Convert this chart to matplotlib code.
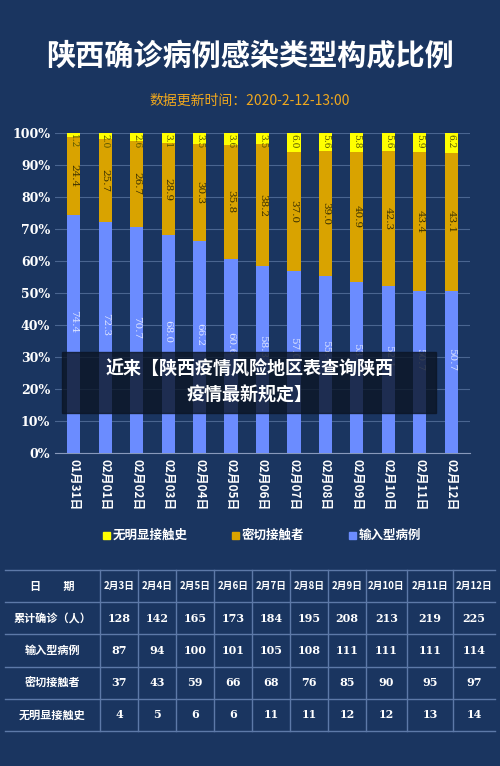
import matplotlib
matplotlib.use("Agg")
import matplotlib.pyplot as plt
from matplotlib.patches import Rectangle
import numpy as np

plt.rcParams['font.family'] = ['Noto Sans CJK SC', 'DejaVu Sans']

dates = ["01月31日","02月01日","02月02日","02月03日","02月04日","02月05日","02月06日",
         "02月07日","02月08日","02月09日","02月10日","02月11日","02月12日"]
imported = [74.4,72.3,70.7,68.0,66.2,60.6,58.3,57.0,55.4,53.3,52.1,50.7,50.7]
close = [24.4,25.7,26.7,28.9,30.3,35.8,38.2,37.0,39.0,40.9,42.3,43.4,43.1]
unknown = [1.2,2.0,2.6,3.1,3.5,3.6,3.5,6.0,5.6,5.8,5.6,5.9,6.2]

tbl_dates = ["2月3日","2月4日","2月5日","2月6日","2月7日","2月8日","2月9日","2月10日","2月11日","2月12日"]
tbl_rows = ["累计确诊（人）","输入型病例","密切接触者","无明显接触史"]
tbl_total = [128,142,165,173,184,195,208,213,219,225]
tbl_imported = [87,94,100,101,105,108,111,111,111,114]
tbl_close = [37,43,59,66,68,76,85,90,95,97]
tbl_unknown = [4,5,6,6,11,11,12,12,13,14]

BG = "#1a3560"
W, H = 500, 766
fig = plt.figure(figsize=(5, 7.66), dpi=100, facecolor=BG)

fig.text(0.5, 1-55/H, "陕西确诊病例感染类型构成比例", ha="center", va="center",
         color="white", fontsize=21, fontweight="bold")
fig.text(0.5, 1-101/H, "数据更新时间：2020-2-12-13:00", ha="center", va="center",
         color="#f0a81e", fontsize=10)

ax = fig.add_axes([55/W, 1-453/H, 415/W, 320/H])
ax.set_facecolor(BG)
x = np.arange(len(dates))
bw = 0.42
c_imp, c_close, c_unk = "#6b8cff", "#d9a300", "#ffff00"
ax.bar(x, imported, bw, color=c_imp, zorder=3)
ax.bar(x, close, bw, bottom=imported, color=c_close, zorder=3)
ax.bar(x, unknown, bw, bottom=np.array(imported)+np.array(close), color=c_unk, zorder=3)
for i in range(len(x)):
    ax.text(x[i], imported[i]/2 + 4, f"{imported[i]:.1f}", rotation=270, ha="center", va="center",
            color="#dde4ff", fontsize=7.5, zorder=4, family="DejaVu Serif")
    ax.text(x[i], imported[i]+close[i]/2, f"{close[i]:.1f}", rotation=270, ha="center", va="center",
            color="#3a3000", fontsize=7.5, zorder=4, family="DejaVu Serif")
    ax.text(x[i], 99.8, f"{unknown[i]:.1f}", rotation=270, ha="center", va="top",
            color="#555500", fontsize=6.5, zorder=4, family="DejaVu Serif")
ax.set_ylim(0, 100)
ax.set_xlim(-0.6, len(x)-0.4)
ax.set_yticks(range(0, 101, 10))
ax.set_yticklabels([f"{v}%" for v in range(0, 101, 10)], color="white", fontsize=9,
                   fontweight="bold", family=["DejaVu Serif"])
ax.set_xticks(x)
ax.set_xticklabels(dates, rotation=270, color="white", fontsize=8.5, fontweight="bold")
ax.grid(axis="y", color="#4a6590", lw=0.8, zorder=0)
for s in ["top", "right", "left"]:
    ax.spines[s].set_visible(False)
ax.spines["bottom"].set_color("#8899bb")
ax.tick_params(axis="y", length=0)
ax.tick_params(axis="x", length=0, pad=4)

# legend
ly = 1-535/H
for lx, col, lab in [(103, c_unk, "无明显接触史"), (232, c_close, "密切接触者"), (349, c_imp, "输入型病例")]:
    fig.patches.append(Rectangle((lx/W, ly-3.5/H), 7/W, 7/H, transform=fig.transFigure, color=col))
    fig.text((lx+10)/W, ly, lab, color="white", fontsize=9, fontweight="bold", va="center")

# overlay banner
fig.patches.append(Rectangle((62/W, 1-413/H), 374/W, 61/H, transform=fig.transFigure,
                             color="#0b1525", alpha=0.8, zorder=10))
fig.text(0.5, 1-382/H, "近来【陕西疫情风险地区表查询陕西\n疫情最新规定】", ha="center", va="center",
         color="white", fontsize=13, fontweight="bold", zorder=11, linespacing=1.5)

# table
col_edges = [5, 100, 138, 176, 214, 252, 290, 328, 366, 407, 453, 495]
row_edges = [570, 602, 634, 667, 699, 731]
tax = fig.add_axes([0, 0, 1, 1], facecolor="none")
tax.set_xlim(0, W); tax.set_ylim(H, 0); tax.axis("off")
lc = "#5d79a8"
for yv in row_edges:
    tax.plot([col_edges[0], col_edges[-1]], [yv, yv], color=lc, lw=1)
for xv in col_edges[1:-1]:
    tax.plot([xv, xv], [row_edges[0], row_edges[-1]], color=lc, lw=1)
rows = [["日　　期"] + tbl_dates,
        [tbl_rows[0]] + [str(v) for v in tbl_total],
        [tbl_rows[1]] + [str(v) for v in tbl_imported],
        [tbl_rows[2]] + [str(v) for v in tbl_close],
        [tbl_rows[3]] + [str(v) for v in tbl_unknown]]
for r, row in enumerate(rows):
    yc = (row_edges[r] + row_edges[r+1]) / 2
    for c, val in enumerate(row):
        xc = (col_edges[c] + col_edges[c+1]) / 2
        fs = 8 if c == 0 else (7 if r == 0 else 8)
        tax.text(xc, yc, val, ha="center", va="center", color="white", fontsize=fs, fontweight="bold",
                 family=["DejaVu Serif", "Noto Sans CJK SC"] if (c > 0 and r > 0) else ["Noto Sans CJK SC", "DejaVu Sans"])

fig.savefig("out.png", dpi=100, facecolor=BG)
